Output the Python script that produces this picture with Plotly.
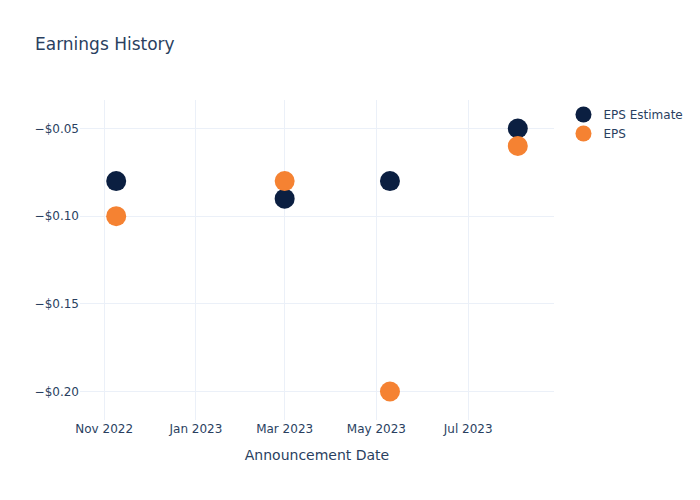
import plotly.graph_objects as go

dates = ["2022-11-09", "2023-03-01", "2023-05-10", "2023-08-03"]
eps_estimate = [-0.08, -0.09, -0.08, -0.05]
eps_actual = [-0.10, -0.08, -0.20, -0.06]

fig = go.Figure()
fig.add_trace(go.Scatter(x=dates, y=eps_estimate, mode="markers", name="EPS Estimate",
                         marker=dict(color="#0b1f41", size=20)))
fig.add_trace(go.Scatter(x=dates, y=eps_actual, mode="markers", name="EPS",
                         marker=dict(color="#f58232", size=20)))
fig.update_layout(
    template="plotly_white",
    width=700, height=500,
    font=dict(family="DejaVu Sans"),
    title=dict(text="Earnings History"),
    xaxis=dict(title=dict(text="Announcement Date"), type="date"),
    yaxis=dict(tickformat="$.2f", zeroline=False),
)
fig.write_html("out.html")
